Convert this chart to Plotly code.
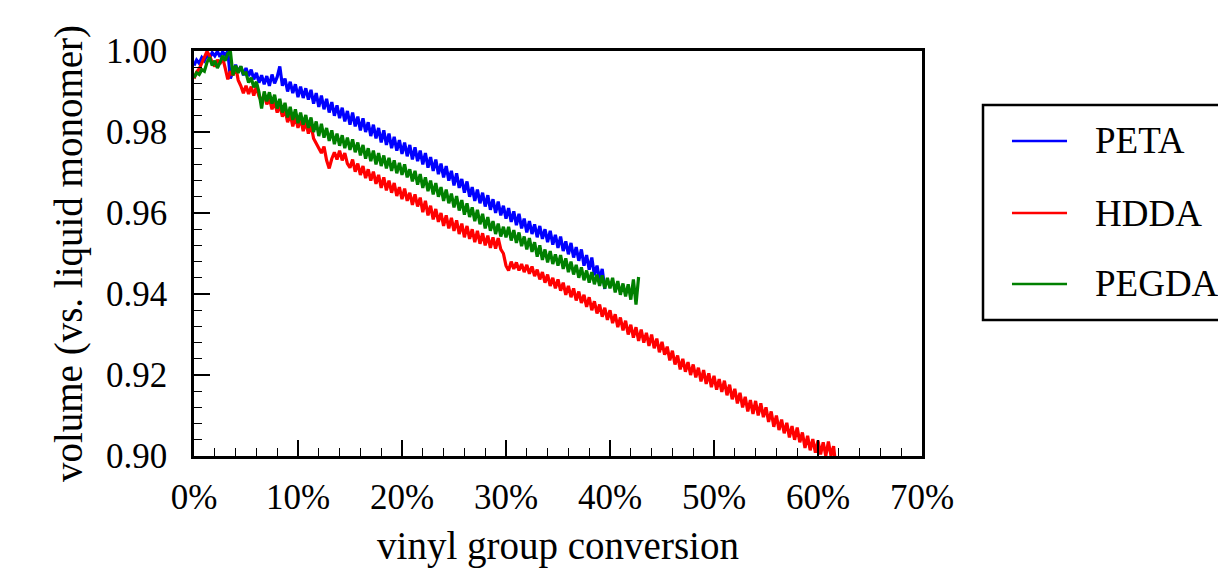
import plotly.graph_objects as go

# vinyl group conversion grid (%)
conversion_pct = [
    0, 0.25, 0.5, 0.75, 1, 1.25, 1.5, 1.75, 2, 2.25, 2.5, 2.75, 3, 3.25, 3.5, 3.75,
    4, 4.25, 4.5, 4.75, 5, 5.25, 5.5, 5.75, 6, 6.25, 6.5, 6.75, 7, 7.25, 7.5, 7.75,
    8, 8.25, 8.5, 8.75, 9, 9.25, 9.5, 9.75, 10, 10.25, 10.5, 10.75, 11, 11.25, 11.5, 11.75,
    12, 12.25, 12.5, 12.75, 13, 13.25, 13.5, 13.75, 14, 14.25, 14.5, 14.75, 15, 15.25, 15.5, 15.75,
    16, 16.25, 16.5, 16.75, 17, 17.25, 17.5, 17.75, 18, 18.25, 18.5, 18.75, 19, 19.25, 19.5, 19.75,
    20, 20.25, 20.5, 20.75, 21, 21.25, 21.5, 21.75, 22, 22.25, 22.5, 22.75, 23, 23.25, 23.5, 23.75,
    24, 24.25, 24.5, 24.75, 25, 25.25, 25.5, 25.75, 26, 26.25, 26.5, 26.75, 27, 27.25, 27.5, 27.75,
    28, 28.25, 28.5, 28.75, 29, 29.25, 29.5, 29.75, 30, 30.25, 30.5, 30.75, 31, 31.25, 31.5, 31.75,
    32, 32.25, 32.5, 32.75, 33, 33.25, 33.5, 33.75, 34, 34.25, 34.5, 34.75, 35, 35.25, 35.5, 35.75,
    36, 36.25, 36.5, 36.75, 37, 37.25, 37.5, 37.75, 38, 38.25, 38.5, 38.75, 39, 39.25, 39.5, 39.75,
    40, 40.25, 40.5, 40.75, 41, 41.25, 41.5, 41.75, 42, 42.25, 42.5, 42.75, 43, 43.25, 43.5, 43.75,
    44, 44.25, 44.5, 44.75, 45, 45.25, 45.5, 45.75, 46, 46.25, 46.5, 46.75, 47, 47.25, 47.5, 47.75,
    48, 48.25, 48.5, 48.75, 49, 49.25, 49.5, 49.75, 50, 50.25, 50.5, 50.75, 51, 51.25, 51.5, 51.75,
    52, 52.25, 52.5, 52.75, 53, 53.25, 53.5, 53.75, 54, 54.25, 54.5, 54.75, 55, 55.25, 55.5, 55.75,
    56, 56.25, 56.5, 56.75, 57, 57.25, 57.5, 57.75, 58, 58.25, 58.5, 58.75, 59, 59.25, 59.5, 59.75,
    60, 60.25, 60.5, 60.75, 61, 61.25, 61.5, 61.75, 62,
]

# PETA volume (vs. liquid monomer), 0 .. 39.5 %
peta_volume = [
    .9964, .9978, .9970, .9984, .9976, .9990, .9982, .9996, .9988, .9999, .9986, .9998,
    .9990, .9999, .9932, .9948, .9966, .9948, .9962, .9940, .9958, .9938, .9954, .9930,
    .9946, .9922, .9940, .9918, .9938, .9914, .9942, .9920, .9936, .9962, .9914, .9932,
    .9900, .9924, .9896, .9918, .9886, .9912, .9884, .9908, .9880, .9904, .9870, .9896,
    .9862, .9890, .9856, .9882, .9848, .9874, .9840, .9866, .9834, .9860, .9826, .9852,
    .9818, .9848, .9814, .9838, .9804, .9834, .9800, .9824, .9790, .9818, .9784, .9810,
    .9774, .9804, .9768, .9796, .9760, .9788, .9754, .9780, .9746, .9774, .9740, .9768,
    .9732, .9762, .9728, .9754, .9720, .9748, .9712, .9738, .9704, .9732, .9696, .9722,
    .9688, .9716, .9680, .9704, .9668, .9698, .9662, .9684, .9650, .9678, .9640, .9664,
    .9630, .9658, .9624, .9650, .9616, .9644, .9608, .9634, .9600, .9628, .9594, .9618,
    .9586, .9612, .9578, .9604, .9570, .9598, .9562, .9586, .9552, .9580, .9548, .9572,
    .9540, .9568, .9536, .9560, .9528, .9556, .9522, .9546, .9514, .9542, .9506, .9530,
    .9498, .9526, .9490, .9516, .9482, .9510, .9470, .9496, .9460, .9490, .9446, .9470,
    .9436, .9462, .9412,
]

# HDDA volume, 0 .. 62 %
hdda_volume = [
    .9932, .9948, .9956, .9970, .9984, .9999, .9988, .9972, .9962, .9978, .9968, .9984,
    .9958, .9930, .9950, .9940, .9962, .9928, .9914, .9896, .9914, .9894, .9912, .9890,
    .9912, .9888, .9876, .9894, .9868, .9884, .9856, .9874, .9848, .9866, .9838, .9856,
    .9824, .9844, .9814, .9838, .9810, .9834, .9802, .9826, .9796, .9818, .9784, .9772,
    .9760, .9748, .9764, .9730, .9710, .9734, .9750, .9732, .9754, .9730, .9748, .9722,
    .9712, .9732, .9702, .9722, .9694, .9716, .9686, .9708, .9680, .9702, .9672, .9694,
    .9662, .9688, .9656, .9680, .9650, .9674, .9642, .9664, .9634, .9660, .9630, .9650,
    .9620, .9646, .9616, .9638, .9602, .9630, .9594, .9618, .9584, .9610, .9578, .9600,
    .9568, .9594, .9562, .9588, .9556, .9582, .9548, .9574, .9540, .9568, .9536, .9560,
    .9528, .9556, .9524, .9550, .9520, .9544, .9514, .9540, .9512, .9538, .9510, .9500,
    .9470, .9458, .9480, .9462, .9478, .9458, .9474, .9454, .9472, .9450, .9468, .9444,
    .9460, .9436, .9454, .9428, .9448, .9420, .9440, .9414, .9436, .9408, .9428, .9398,
    .9420, .9392, .9414, .9384, .9406, .9378, .9398, .9368, .9392, .9360, .9382, .9352,
    .9374, .9344, .9366, .9336, .9360, .9328, .9350, .9318, .9342, .9310, .9334, .9300,
    .9324, .9292, .9318, .9284, .9312, .9280, .9304, .9272, .9300, .9266, .9290, .9256,
    .9282, .9250, .9270, .9236, .9260, .9226, .9248, .9214, .9240, .9208, .9232, .9200,
    .9226, .9194, .9218, .9184, .9212, .9178, .9204, .9170, .9198, .9164, .9190, .9158,
    .9186, .9150, .9176, .9140, .9166, .9130, .9156, .9120, .9146, .9110, .9138, .9104,
    .9136, .9100, .9130, .9096, .9120, .9084, .9110, .9072, .9100, .9064, .9090, .9056,
    .9082, .9046, .9074, .9040, .9070, .9034, .9058, .9020, .9050, .9014, .9042, .9008,
    .9038, .9004, .9034, .9000, .9036, .9000, .9024, .8966, .8988,
]

# PEGDA volume, 0 .. 42.75 %
pegda_volume = [
    .9934, .9946, .9942, .9954, .9950, .9972, .9984, .9964, .9976, .9958, .9972, .9988,
    .9976, .9994, .9999, .9940, .9964, .9946, .9962, .9944, .9946, .9922, .9934, .9910,
    .9924, .9898, .9858, .9900, .9876, .9898, .9870, .9892, .9858, .9882, .9848, .9872,
    .9836, .9862, .9830, .9856, .9822, .9848, .9818, .9842, .9810, .9836, .9800, .9826,
    .9790, .9820, .9786, .9810, .9778, .9804, .9770, .9796, .9766, .9792, .9760, .9786,
    .9756, .9782, .9750, .9774, .9742, .9768, .9734, .9760, .9728, .9754, .9720, .9748,
    .9716, .9742, .9710, .9736, .9704, .9730, .9698, .9724, .9694, .9720, .9688, .9708,
    .9678, .9704, .9670, .9696, .9662, .9688, .9654, .9680, .9646, .9674, .9640, .9664,
    .9630, .9658, .9624, .9648, .9614, .9642, .9606, .9632, .9596, .9624, .9590, .9614,
    .9580, .9608, .9572, .9598, .9562, .9590, .9556, .9580, .9548, .9574, .9542, .9566,
    .9540, .9566, .9532, .9558, .9526, .9552, .9518, .9542, .9510, .9538, .9504, .9528,
    .9492, .9520, .9484, .9510, .9478, .9506, .9474, .9498, .9470, .9496, .9462, .9488,
    .9454, .9480, .9448, .9472, .9440, .9466, .9434, .9458, .9428, .9454, .9424, .9448,
    .9420, .9446, .9414, .9440, .9414, .9440, .9404, .9432, .9398, .9426, .9394, .9424,
    .9386, .9436, .9374, .9442,
]

series_names = ["PETA", "HDDA", "PEGDA"]
series_colors = ["#0000ff", "#ff0000", "#008000"]
series_values = [peta_volume, hdda_volume, pegda_volume]

x_tick_vals = [0, 10, 20, 30, 40, 50, 60, 70]
x_tick_text = ["0%", "10%", "20%", "30%", "40%", "50%", "60%", "70%"]
y_tick_vals = [0.90, 0.92, 0.94, 0.96, 0.98, 1.00]
y_tick_text = ["0.90", "0.92", "0.94", "0.96", "0.98", "1.00"]

FONT = "Liberation Serif, Times New Roman, serif"

fig = go.Figure()
for name, color, vals in zip(series_names, series_colors, series_values):
    fig.add_trace(go.Scatter(
        x=conversion_pct[:len(vals)], y=vals, mode="lines", name=name,
        line=dict(color=color, width=3.2), showlegend=False,
    ))

axis_common = dict(
    showline=True, linecolor="black", linewidth=2.5, mirror=True,
    ticks="inside", ticklen=16, tickwidth=1.5, tickcolor="black",
    showgrid=False, zeroline=False,
    tickfont=dict(family=FONT, size=35, color="black"),
)

fig.update_xaxes(
    range=[0, 70], tickvals=x_tick_vals, ticktext=x_tick_text,
    ticklabelstandoff=8,
    minor=dict(ticks="inside", ticklen=8, tickwidth=1.2, tickcolor="black", dtick=2, tick0=0),
    title=dict(text="vinyl group conversion", font=dict(family=FONT, size=39, color="black"), standoff=16),
    **axis_common,
)
fig.update_yaxes(
    range=[0.90, 1.00], tickvals=y_tick_vals, ticktext=y_tick_text,
    ticklabelstandoff=17,
    minor=dict(ticks="inside", ticklen=8, tickwidth=1.2, tickcolor="black", dtick=0.004, tick0=0.9),
    title=dict(text="volume (vs. liquid monomer)", font=dict(family=FONT, size=39, color="black"), standoff=12),
    **axis_common,
)

# legend drawn by hand (box extends past the right edge as in the original)
legend_rows_y = [0.7778, 0.6000, 0.4247]
shapes = [dict(type="rect", xref="paper", yref="paper", x0=1.0838, x1=1.42, y0=0.3358, y1=0.8667,
               line=dict(color="black", width=2.5), fillcolor="rgba(0,0,0,0)")]
annotations = []
for name, color, yy in zip(series_names, series_colors, legend_rows_y):
    shapes.append(dict(type="line", xref="paper", yref="paper", x0=1.1236, x1=1.1992, y0=yy, y1=yy,
                       line=dict(color=color, width=2.5)))
    annotations.append(dict(text=name, xref="paper", yref="paper", x=1.2349, y=yy, xanchor="left",
                            yanchor="middle", showarrow=False,
                            font=dict(family=FONT, size=37, color="black")))

fig.update_layout(
    width=1218, height=572,
    margin=dict(l=194, r=296, t=51, b=116),
    paper_bgcolor="white", plot_bgcolor="white",
    shapes=shapes, annotations=annotations,
    showlegend=False,
)

fig.write_html("out.html", config={"displayModeBar": False},
               post_script="document.body.style.margin='0';")
